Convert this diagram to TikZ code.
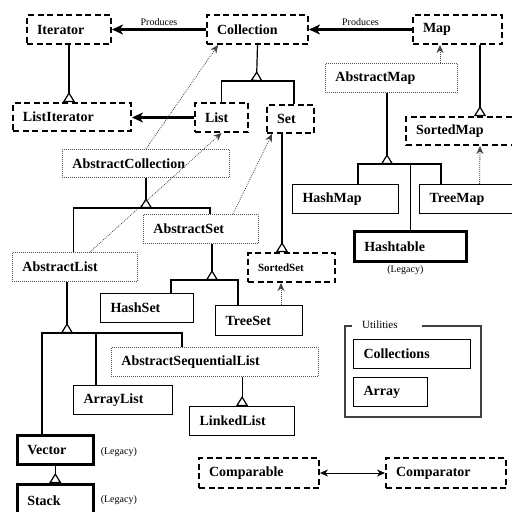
\documentclass[tikz,border=0pt]{standalone}
\usepackage{fontspec}
\setmainfont{Liberation Serif}
\usetikzlibrary{arrows.meta,positioning}

\begin{document}
\begin{tikzpicture}[
    x=1pt, y=-1pt,
    box/.style={anchor=north west, inner xsep=10pt, inner ysep=0pt, minimum height=29pt, align=left, font=\bfseries\fontsize{14}{16}\selectfont},
    iface/.style={box, draw, line width=2pt, dash pattern=on 6pt off 3.5pt},
    abstract/.style={box, draw=black!70, line width=0.8pt, dash pattern=on 0.8pt off 1.2pt},
    concrete/.style={box, draw, line width=1.2pt},
    legacy/.style={box, draw, line width=2.6pt},
    note/.style={font=\fontsize{10}{12}\selectfont, inner sep=1pt},
    produces/.style={-{Stealth[length=11pt, width=10pt, inset=3pt]}, line width=2.6pt},
    implements/.style={-{Stealth[length=8pt, width=7pt]}, black!75, line width=0.8pt, dash pattern=on 0.8pt off 1.2pt},
    inherit/.style={-{Triangle[open, reversed, length=10pt, width=12pt]}, line width=1.2pt},
    link/.style={line width=1.2pt}
]
    \useasboundingbox (0,0) rectangle (512,512);
    \clip (0,0) rectangle (512,512);

    % Interfaces
    \node[iface, text width=64pt] (iterator) at (26,14) {Iterator};
    \node[iface, text width=81pt] (collection) at (206,14) {Collection};
    \node[iface, text width=69pt] (map) at (412,14) {Map};
    \node[iface, text width=98pt, minimum height=28pt] (listiterator) at (12,102) {ListIterator};
    \node[iface, text width=33pt] (list) at (194,102) {List};
    \node[iface, text width=27pt, minimum height=28pt] (set) at (266,104) {Set};
    \node[iface, text width=128pt, minimum height=28pt] (sortedmap) at (405,116) {SortedMap};
    \node[iface, text width=67pt, font=\bfseries\fontsize{11}{13}\selectfont] (sortedset) at (247,252) {SortedSet};
    \node[iface, text width=100pt, minimum height=30pt] (comparable) at (198,457) {Comparable};
    \node[iface, text width=100pt, minimum height=30pt] (comparator) at (385,457) {Comparator};

    % Abstract classes
    \node[abstract, text width=112pt] (abstractmap) at (325,63) {AbstractMap};
    \node[abstract, text width=147pt, minimum height=28pt] (abstractcollection) at (62,149) {AbstractCollection};
    \node[abstract, text width=95pt] (abstractset) at (143,214) {AbstractSet};
    \node[abstract, text width=105pt] (abstractlist) at (12,252) {AbstractList};
    \node[abstract, text width=187pt] (abstractsequentiallist) at (111,347) {AbstractSequentialList};

    % Concrete classes
    \node[concrete, text width=86pt] (hashmap) at (292,184) {HashMap};
    \node[concrete, text width=100pt] (treemap) at (419,184) {TreeMap};
    \node[concrete, text width=73pt] (hashset) at (100,293) {HashSet};
    \node[concrete, text width=67pt, minimum height=30pt] (treeset) at (215,305) {TreeSet};
    \node[concrete, text width=79pt] (arraylist) at (73,385) {ArrayList};
    \node[concrete, text width=85pt] (linkedlist) at (189,406) {LinkedList};

    % Legacy classes
    \node[legacy, text width=92pt, minimum height=30pt] (hashtable) at (353,230) {Hashtable};
    \node[legacy, text width=56pt] (vector) at (16,434) {Vector};
    \node[legacy, text width=56pt, minimum height=32pt] (stack) at (16,483) {Stack};
    \node[note, below=2pt of hashtable, xshift=-5pt] (hashtablenote) {(Legacy)};
    \node[note, right=5pt of vector, yshift=-2pt] (vectornote) {(Legacy)};
    \node[note, right=5pt of stack] (stacknote) {(Legacy)};

    % Utilities
    \node[draw=black!75, line width=1.8pt, anchor=north west, minimum width=136pt, minimum height=91pt, inner sep=0pt] (utilities) at (344,325) {};
    \node[fill=white, anchor=west, inner xsep=10pt, inner ysep=2pt, text width=50pt, font=\fontsize{11}{13}\selectfont] (utilitieslabel) at (352,325) {Utilities};
    \node[concrete, text width=97pt] (collections) at (353,339) {Collections};
    \node[concrete, text width=54pt] (array) at (353,377) {Array};

    % Produces
    \draw[produces] (collection) -- node[note, above=2pt] {Produces} (iterator);
    \draw[produces] (map) -- node[note, above=2pt] {Produces} (collection);
    \draw[produces] (list.west) -- (list.west -| listiterator.east);

    % Implementations
    \draw[implements] (abstractcollection.north) -- ([xshift=12pt]collection.south west);
    \draw[implements] ([xshift=78pt]abstractlist.north west) -- (list.south);
    \draw[implements] ([xshift=90pt]abstractset.north west) -- ([xshift=6pt]set.south west);
    \draw[implements] ([xshift=115pt]abstractmap.north west) -- ([xshift=28pt]map.south west);
    \draw[implements] (treemap.north) -- (sortedmap.south);
    \draw[implements] ([xshift=66pt]treeset.north west) -- ([xshift=34pt]sortedset.south west);

    % Inheritance
    \coordinate (collectionjoin) at (256.5,81);
    \coordinate (abstractmapjoin) at (387,164);
    \coordinate (abstractcollectionjoin) at (146,208);
    \coordinate (abstractsetjoin) at (212,280);
    \coordinate (abstractlistjoin) at (67,333);
    \coordinate (arraylistlane) at (96,333);
    \coordinate (sortedsetlane) at (282,0);

    \draw[inherit] (iterator.south) -- (iterator.south |- listiterator.north);

    \draw[inherit] (collection.south) -- (collectionjoin);
    \draw[link] (list.north) |- (collectionjoin) -| ([xshift=3.5pt]set.north);

    \draw[inherit] (map.south -| sortedmap.north) -- (sortedmap.north);
    \draw[inherit] (set.south -| sortedsetlane) -- (sortedset.north -| sortedsetlane);

    \draw[inherit] (abstractmap.south -| abstractmapjoin) -- (abstractmapjoin);
    \draw[link] ([xshift=66pt]hashmap.north west) |- (abstractmapjoin) -| ([xshift=22pt]treemap.north west);
    \draw[link] (hashtable.north) -- (hashtable.north |- abstractmapjoin);

    \draw[inherit] (abstractcollection.south -| abstractcollectionjoin) -- (abstractcollectionjoin);
    \draw[link] ([xshift=-1.5pt]abstractlist.north) |- (abstractcollectionjoin) -| ([xshift=67pt]abstractset.north west);

    \draw[inherit] (abstractset.south -| abstractsetjoin) -- (abstractsetjoin);
    \draw[link] ([xshift=71pt]hashset.north west) |- (abstractsetjoin) -| ([xshift=23pt]treeset.north west);

    \draw[inherit] (abstractlist.south -| abstractlistjoin) -- (abstractlistjoin);
    \draw[link] ([xshift=26pt]vector.north west) |- (abstractlistjoin) -| ([xshift=71pt]abstractsequentiallist.north west);
    \draw[link] (arraylist.north -| arraylistlane) -- (arraylistlane);

    \draw[inherit] (abstractsequentiallist.south -| linkedlist.north) -- (linkedlist.north);
    \draw[inherit] (vector.south) -- (stack.north);

    % Comparison
    \draw[{Stealth[length=8pt, width=7pt]}-{Stealth[length=8pt, width=7pt]}, line width=1pt] (comparable) -- (comparator);
\end{tikzpicture}
\end{document}
